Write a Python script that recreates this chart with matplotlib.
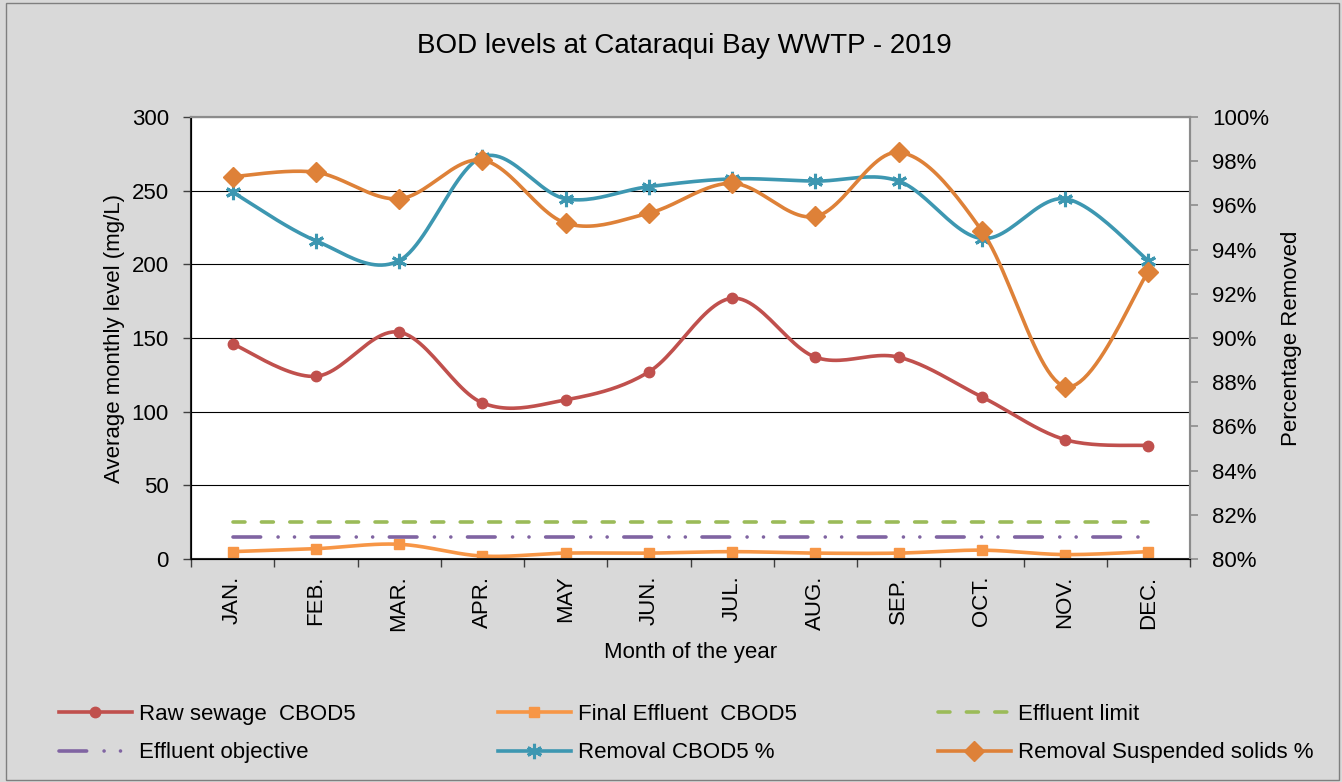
#BOD levels at Cataraqui Bay WWTP - 2019, Excel style smoothed line chart with a second axis

import numpy as np
from matplotlib import pyplot as plt
from matplotlib.patches import Rectangle

plt.rcParams['font.family'] = ['Liberation Sans', 'DejaVu Sans']
plt.rcParams['lines.scale_dashes'] = False


#Data
months = ['JAN.', 'FEB.', 'MAR.', 'APR.', 'MAY', 'JUN.', 'JUL.', 'AUG.', 'SEP.', 'OCT.', 'NOV.', 'DEC.']

raw_sewage = [146, 124, 154, 106, 108, 127, 177, 137, 137, 110, 81, 77]
final_effluent = [5, 7, 10, 2, 4, 4, 5, 4, 4, 6, 3, 5]
effluent_limit = [25] * 12
effluent_objective = [15] * 12

removal_cbod5 = [96.6, 94.4, 93.5, 98.2, 96.3, 96.85, 97.2, 97.1, 97.1, 94.5, 96.3, 93.5]
removal_ss = [97.3, 97.5, 96.3, 98.05, 95.2, 95.65, 97.0, 95.5, 98.4, 94.85, 87.8, 93.0]


#Excel "smoothed line" - cubic bezier through the points (Catmull-Rom control points)
def smooth(values, n=24):
    y = np.asarray(values, float)
    pts = np.column_stack([np.arange(len(y), dtype=float), y])
    P = np.vstack([pts[0], pts, pts[-1]])
    t = np.linspace(0, 1, n, endpoint=False)[:, None]
    out = []
    for i in range(len(y) - 1):
        p0, p1, p2, p3 = P[i], P[i + 1], P[i + 2], P[i + 3]
        c1 = p1 + (p2 - p0) / 6
        c2 = p2 - (p3 - p1) / 6
        out.append((1 - t)**3 * p1 + 3 * (1 - t)**2 * t * c1 + 3 * (1 - t) * t**2 * c2 + t**3 * p2)
    out.append(pts[-1:])
    xy = np.vstack(out)
    return xy[:, 0], xy[:, 1], list(range(0, len(xy), n))


W, H = 1342, 782
fig = plt.figure(figsize=(W / 100, H / 100), dpi=100, facecolor='#d9d9d9')

#chart area border
fig.patches.append(Rectangle((6 / W, 2 / H), 1333 / W, 777 / H, transform=fig.transFigure,
                             fill=False, ec='#7f7f7f', lw=1))

ax = fig.add_axes([191 / W, 1 - 559 / H, 999 / W, 442 / H])
ax.set_facecolor('white')
ax2 = ax.twinx()

lw = 2.6

#Primary axis series
x, y, me = smooth(raw_sewage)
l_raw, = ax.plot(x, y, color='#c0504d', lw=lw, marker='o', ms=7.5, markevery=me,
                 label='Raw sewage  CBOD5')

x, y, me = smooth(final_effluent)
l_fin, = ax.plot(x, y, color='#f79646', lw=lw, marker='s', ms=7.5, markevery=me,
                 label='Final Effluent  CBOD5')

l_lim, = ax.plot(range(12), effluent_limit, color='#9bbb59', lw=lw, dash_capstyle='round',
                 ls=(0, (8.6, 11.85)), label='Effluent limit')

l_obj, = ax.plot(range(12), effluent_objective, color='#8064a2', lw=lw, dash_capstyle='round',
                 ls=(0, (19.9, 12.56, 0.01, 11.8, 0.01, 12.0)), label='Effluent objective')

#Secondary axis series
x, y, me = smooth(removal_cbod5)
l_cb, = ax2.plot(x, y, color='#3d97b1', lw=lw, marker=(6, 2, 0), ms=11, mew=2.2, markevery=me,
                 label='Removal CBOD5 %')

x, y, me = smooth(removal_ss)
l_ss, = ax2.plot(x, y, color='#de8138', lw=lw, marker='D', ms=10, markevery=me,
                 label='Removal Suspended solids %')

#Axes limits and ticks
ax.set_xlim(-0.5, 11.5)
ax.set_ylim(0, 300)
ax.set_yticks(np.arange(0, 301, 50))
ax2.set_ylim(80, 100)
ax2.set_yticks(np.arange(80, 101, 2))
ax2.set_yticklabels([str(v) + '%' for v in range(80, 101, 2)])

ax.set_xticks(range(12))
ax.set_xticklabels(months, rotation=90, fontsize=16)
ax.set_xticks(np.arange(-0.5, 12, 1), minor=True)
ax.tick_params(axis='x', which='major', length=0, pad=12)
ax.tick_params(axis='x', which='minor', length=6, width=1, color='#404040')
ax.tick_params(axis='y', labelsize=16, length=6, width=1, color='#404040', pad=10)
ax2.tick_params(axis='y', labelsize=16, length=6, width=1.2, color='#8c8c8c', pad=10)

#Gridlines
ax.yaxis.grid(True, color='black', lw=0.8)
ax.set_axisbelow(True)

#Spines
for s in ['left', 'bottom']:
    ax.spines[s].set_color('#262626')
    ax.spines[s].set_linewidth(1.5)
for a in [ax, ax2]:
    a.spines['top'].set_color('#8c8c8c')
    a.spines['top'].set_linewidth(1.5)
    a.spines['right'].set_color('#8c8c8c')
    a.spines['right'].set_linewidth(1.5)

#Labels
ax.set_ylabel('Average monthly level (mg/L)', fontsize=16)
ax.yaxis.set_label_coords(-0.066, 0.5)
ax2.set_ylabel('Percentage Removed', fontsize=16)
ax2.yaxis.set_label_coords(1.091, 0.5)
ax.set_xlabel('Month of the year', fontsize=16)
ax.xaxis.set_label_coords(0.5, -0.188)

fig.text(684.5 / W, 1 - 53 / H, 'BOD levels at Cataraqui Bay WWTP - 2019', fontsize=20,
         ha='center', va='baseline')

#Legend, one per column so that the columns start where Excel puts them
columns = [([l_raw, l_obj], 59), ([l_fin, l_cb], 498), ([l_lim, l_ss], 938)]
for handles, xpos in columns:
    fig.legend(handles=handles, loc='upper left', bbox_to_anchor=(xpos / W, 1 - 704 / H),
               frameon=False, fontsize=16, handlelength=3.28, handletextpad=0.33,
               labelspacing=0.78, borderpad=0, borderaxespad=0, numpoints=1)

plt.savefig('out.png', dpi=100, facecolor=fig.get_facecolor())
